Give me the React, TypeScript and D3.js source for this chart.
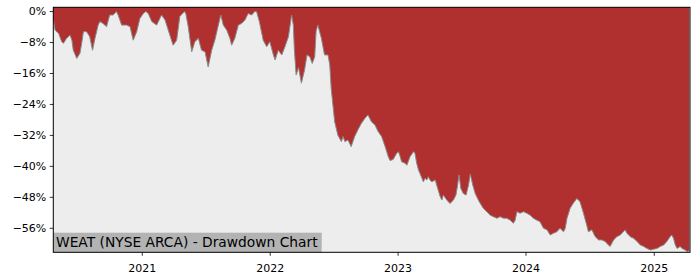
import React from "react";
import * as d3 from "d3";

const TITLE = "WEAT (NYSE ARCA) - Drawdown Chart";

const dates: string[] = [
  "2020-04-22","2020-04-27","2020-05-07","2020-05-16","2020-05-21","2020-05-30","2020-06-09","2020-06-14","2020-06-18","2020-06-28",
  "2020-07-07","2020-07-12","2020-07-17","2020-07-26","2020-08-04","2020-08-12","2020-08-19","2020-08-28","2020-09-02","2020-09-11",
  "2020-09-21","2020-09-30","2020-10-10","2020-10-19","2020-10-24","2020-11-03","2020-11-17","2020-11-27","2020-12-06","2020-12-16",
  "2020-12-25","2021-01-04","2021-01-11","2021-01-18","2021-01-28","2021-02-11","2021-02-20","2021-02-25","2021-03-07","2021-03-16",
  "2021-03-30","2021-04-09","2021-04-18","2021-04-26","2021-05-01","2021-05-05","2021-05-12","2021-05-22","2021-05-31","2021-06-10",
  "2021-06-19","2021-06-29","2021-07-08","2021-07-18","2021-07-27","2021-08-06","2021-08-13","2021-08-20","2021-08-30","2021-09-08",
  "2021-09-13","2021-09-22","2021-10-02","2021-10-11","2021-10-21","2021-10-30","2021-11-09","2021-11-18","2021-11-23","2021-12-01",
  "2021-12-12","2021-12-22","2021-12-31","2022-01-10","2022-01-15","2022-01-24","2022-02-03","2022-02-12","2022-02-22","2022-03-03",
  "2022-03-08","2022-03-11","2022-03-16","2022-03-23","2022-03-31","2022-04-09","2022-04-16","2022-04-24","2022-05-01","2022-05-08",
  "2022-05-12","2022-05-17","2022-05-27","2022-06-05","2022-06-15","2022-06-20","2022-06-24","2022-06-29","2022-07-04","2022-07-13",
  "2022-07-23","2022-07-28","2022-08-02","2022-08-11","2022-08-20","2022-08-30","2022-09-08","2022-09-18","2022-09-28","2022-10-07",
  "2022-10-17","2022-10-27","2022-11-05","2022-11-15","2022-11-25","2022-12-04","2022-12-09","2022-12-18","2022-12-28","2023-01-02",
  "2023-01-07","2023-01-11","2023-01-21","2023-01-26","2023-02-04","2023-02-14","2023-02-18","2023-02-23","2023-02-28","2023-03-10",
  "2023-03-14","2023-03-19","2023-03-24","2023-03-28","2023-04-02","2023-04-07","2023-04-17","2023-04-21","2023-05-01","2023-05-06",
  "2023-05-10","2023-05-20","2023-05-29","2023-06-08","2023-06-15","2023-06-19","2023-06-24","2023-06-29","2023-07-06","2023-07-14",
  "2023-07-21","2023-07-26","2023-08-02","2023-08-09","2023-08-18","2023-08-23","2023-09-01","2023-09-11","2023-09-21","2023-09-30",
  "2023-10-10","2023-10-19","2023-10-29","2023-11-07","2023-11-17","2023-11-26","2023-12-01","2023-12-06","2023-12-15","2023-12-25",
  "2024-01-03","2024-01-13","2024-01-22","2024-02-01","2024-02-10","2024-02-20","2024-03-01","2024-03-10","2024-03-19","2024-03-29",
  "2024-04-07","2024-04-17","2024-04-22","2024-04-27","2024-05-06","2024-05-15","2024-05-25","2024-06-03","2024-06-13","2024-06-22",
  "2024-06-27","2024-07-07","2024-07-16","2024-07-26","2024-08-04","2024-08-14","2024-08-23","2024-08-28","2024-09-07","2024-09-16",
  "2024-09-26","2024-10-05","2024-10-10","2024-10-15","2024-10-25","2024-11-03","2024-11-13","2024-11-22","2024-12-02","2024-12-11",
  "2024-12-21","2024-12-30","2025-01-09","2025-01-18","2025-01-28","2025-02-06","2025-02-15","2025-02-20","2025-02-25","2025-03-02",
  "2025-03-07","2025-03-16","2025-03-21","2025-03-30","2025-04-05","2025-04-11"
];

const drawdown: number[] = [
  -1.8,-4.8,-5.6,-7.8,-8.2,-6.9,-6.1,-7.4,-10.0,-12.1,
  -10.8,-8.2,-5.2,-5.2,-6.5,-10.0,-6.9,-3.5,-2.6,-3.1,
  -3.9,-0.9,-0.9,0,-0.9,-3.5,-3.5,-3.9,-7.4,-5.2,
  -1.8,-0.5,0,-0.5,-2.6,-3.5,-1.8,-0.9,-2.2,-4.8,
  -8.7,-7.4,-1.3,-0.5,0,-0.5,-3.9,-10.4,-7.8,-6.9,
  -10.0,-10.4,-14.3,-10.0,-7.4,-3.5,-0.9,-3.5,-4.8,-6.9,
  -8.7,-6.9,-3.5,-3.1,-2.2,-0.5,-0.9,0,0,-2.6,
  -7.4,-9.1,-7.8,-11.2,-12.5,-10.0,-11.2,-9.1,-6.5,-0.9,
  -3.5,-10.0,-16.4,-14.5,-18.5,-15.1,-11.2,-11.7,-13.4,-11.7,
  -5.0,-3.5,-6.9,-11.2,-11.2,-13.8,-19.8,-24.2,-28.5,-31.9,
  -33.6,-32.3,-33.6,-33.2,-34.9,-32.3,-30.6,-28.9,-27.6,-26.7,
  -28.5,-29.3,-31.0,-32.3,-34.9,-37.5,-38.5,-38.2,-36.6,-36.2,
  -37.5,-38.8,-39.2,-39.7,-37.5,-36.2,-36.6,-39.2,-40.9,-43.1,
  -44.0,-43.1,-43.5,-42.7,-43.5,-44.0,-43.5,-44.8,-47.8,-48.7,
  -47.4,-48.7,-49.6,-48.7,-47.4,-45.3,-42.2,-45.7,-47.0,-47.4,
  -44.8,-42.0,-44.8,-47.0,-48.7,-49.5,-50.8,-51.7,-52.6,-53.0,
  -53.4,-53.0,-53.4,-53.4,-53.9,-54.7,-53.9,-51.7,-52.1,-51.7,
  -52.1,-52.6,-53.4,-53.9,-54.3,-56.0,-56.4,-57.7,-57.3,-56.9,
  -56.0,-56.9,-56.0,-53.4,-50.8,-49.5,-48.3,-49.1,-52.1,-55.1,
  -56.9,-56.4,-58.1,-59.0,-59.0,-59.4,-60.3,-60.7,-59.0,-58.2,
  -57.7,-56.9,-56.4,-57.3,-58.2,-58.6,-59.4,-60.3,-60.7,-61.2,
  -61.6,-61.4,-61.2,-60.7,-60.3,-59.4,-58.2,-57.7,-58.6,-60.3,
  -61.2,-60.7,-61.2,-61.6,-62.0,-61.8
];

const yTickValues: number[] = [0, -8, -16, -24, -32, -40, -48, -56];
const xTickYears: number[] = [2021, 2022, 2023, 2024, 2025];
const xDomain: string[] = ["2020-04-22", "2025-04-13"];
const yDomain: number[] = [-62.2, 1.1];

const W = 700;
const H = 280;
const L = 53.3, R = 690, T = 7.3, B = 252.3;

export default function App() {
  const parse = d3.timeParse("%Y-%m-%d");
  const data = dates.map((d, i) => ({ date: parse(d) as Date, v: drawdown[i] }));
  const x = d3.scaleTime().domain(xDomain.map((d) => parse(d) as Date)).range([L, R]);
  const y = d3.scaleLinear().domain(yDomain).range([B, T]);

  const area = d3.area<{ date: Date; v: number }>()
    .x((d) => x(d.date))
    .y0(T)
    .y1((d) => y(d.v));
  const line = d3.line<{ date: Date; v: number }>()
    .x((d) => x(d.date))
    .y((d) => y(d.v));

  const fmtPct = (v: number) => (v < 0 ? "\u2212" + Math.abs(v) : String(v)) + "%";
  const font = "DejaVu Sans, sans-serif";

  return (
    <svg width={W} height={H} style={{ position: "absolute", left: 0, top: 0 }}>
      <rect x={0} y={0} width={W} height={H} fill="#ffffff" />
      <rect x={L} y={T} width={R - L} height={B - T} fill="#ededed" />
      <path d={area(data) || ""} fill="#b03030" />
      <path d={line(data) || ""} fill="none" stroke="#8a8a8a" strokeWidth={1} />
      <rect x={L} y={232.7} width={268.4} height={B - 232.7} fill="#b3b3b3" />
      <text x={56} y={247.3} fontFamily={font} fontSize={13.8} fill="#000">{TITLE}</text>
      <rect x={L} y={T} width={R - L} height={B - T} fill="none" stroke="#000" strokeWidth={1} />
      {yTickValues.map((v) => (
        <g key={v}>
          <line x1={L - 3.5} x2={L} y1={y(v)} y2={y(v)} stroke="#000" strokeWidth={0.8} />
          <text x={L - 7} y={y(v)} dy="0.35em" textAnchor="end" fontFamily={font} fontSize={11} fill="#000">
            {fmtPct(v)}
          </text>
        </g>
      ))}
      {xTickYears.map((yr) => {
        const xp = x(new Date(yr, 0, 1));
        return (
          <g key={yr}>
            <line x1={xp} x2={xp} y1={B} y2={B + 3.5} stroke="#000" strokeWidth={0.8} />
            <text x={xp} y={271.5} textAnchor="middle" fontFamily={font} fontSize={11} fill="#000">
              {yr}
            </text>
          </g>
        );
      })}
    </svg>
  );
}
